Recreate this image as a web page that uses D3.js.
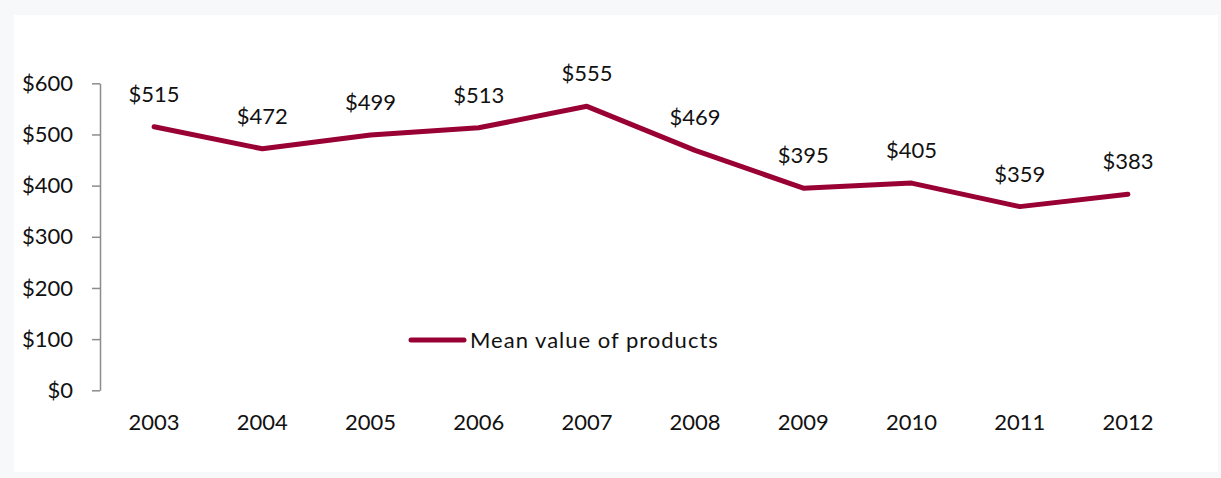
<!DOCTYPE html>
<html>
<head>
<meta charset="utf-8">
<script src="https://cdn.jsdelivr.net/npm/d3@7"></script>
<style>
  html, body { margin: 0; padding: 0; background: #f7f8fa; }
  svg { display: block; }
  text { font-family: Lato, "Open Sans", sans-serif; fill: #111; }
</style>
</head>
<body>
<svg id="chart" width="1221" height="478"></svg>
<script>
// Mean value of products, 2003–2012
const years = ["2003", "2004", "2005", "2006", "2007", "2008", "2009", "2010", "2011", "2012"];
const meanValues = [515, 472, 499, 513, 555, 469, 395, 405, 359, 383];
const yTicks = [0, 100, 200, 300, 400, 500, 600];
const seriesName = "Mean value of products";

const svg = d3.select("#chart");
const lineColor = "#990033";
const fontSize = "22px";
const fontFamily = "Lato, 'Open Sans', sans-serif";

// white panel
svg.append("rect").attr("x", 14).attr("y", 15).attr("width", 1204).attr("height", 457).attr("fill", "#ffffff");

const x = d3.scaleBand().domain(years).range([100, 1182]);
const y = d3.scaleLinear().domain([0, 600]).range([390.3, 83.3]);

// y axis
const yAxis = svg.append("g").attr("transform", "translate(100,0)")
  .call(d3.axisLeft(y).tickValues(yTicks).tickSize(8).tickSizeOuter(0).tickPadding(19).tickFormat(d => "$" + d));
yAxis.select(".domain").attr("stroke", "#8c8c8c").attr("stroke-width", 1.5);
yAxis.selectAll(".tick line").attr("stroke", "#8c8c8c").attr("stroke-width", 1.5);
yAxis.selectAll(".tick text").style("font-size", fontSize).style("font-family", fontFamily).attr("fill", "#111");

// x axis labels only
const xAxis = svg.append("g").attr("transform", "translate(0,390.3)")
  .call(d3.axisBottom(x).tickSize(0).tickPadding(24));
xAxis.select(".domain").remove();
xAxis.selectAll(".tick text").style("font-size", fontSize).style("font-family", fontFamily).attr("fill", "#111");

const pts = years.map((yr, i) => ({ year: yr, value: meanValues[i] }));
const cx = d => x(d.year) + x.bandwidth() / 2;

svg.append("path")
  .datum(pts)
  .attr("fill", "none")
  .attr("stroke", lineColor)
  .attr("stroke-width", 5)
  .attr("stroke-linecap", "round")
  .attr("stroke-linejoin", "round")
  .attr("d", d3.line().x(cx).y(d => y(d.value)));

// data labels
svg.append("g").selectAll("text")
  .data(pts)
  .join("text")
  .attr("x", cx)
  .attr("y", d => y(d.value) - 25)
  .attr("text-anchor", "middle")
  .style("font-size", fontSize)
  .text(d => "$" + d.value);

// legend
const lg = svg.append("g");
lg.append("line").attr("x1", 411).attr("x2", 464).attr("y1", 340).attr("y2", 340)
  .attr("stroke", lineColor).attr("stroke-width", 5).attr("stroke-linecap", "round");
lg.append("text").attr("x", 470).attr("y", 348).style("font-size", fontSize)
  .style("letter-spacing", "1px").text(seriesName);
</script>
</body>
</html>
